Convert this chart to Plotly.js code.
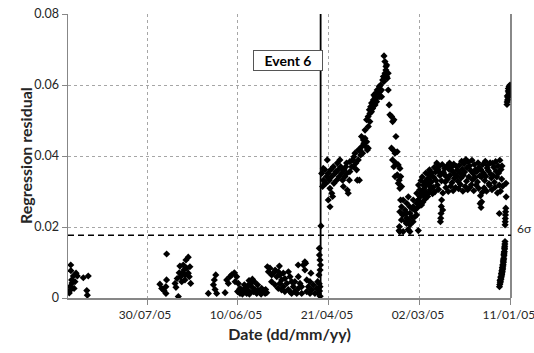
<!DOCTYPE html>
<html><head><meta charset="utf-8">
<script src="https://cdn.plot.ly/plotly-3.0.1.min.js"></script>
<style>html,body{margin:0;padding:0;background:#fff}#chart{width:534px;height:353px}</style>
</head><body><div id="chart"></div>
<script>
// ---- chart constants ----
const eventDate = '2005-04-25 14:00';
const eventLabel = 'Event 6';
const sixSigma = 0.0177;
const sixSigmaLabel = '6σ';
const xTitle = 'Date (dd/mm/yy)';
const yTitle = 'Regression residual';
const tickDates = ['2005-01-11','2005-03-02','2005-04-21','2005-06-10','2005-07-30'];
const tickLabels = ['11/01/05','02/03/05','21/04/05','10/06/05','30/07/05'];
const axisLaterEnd = '2005-09-11 10:00';
const axisEarlierEnd = '2005-01-10 23:00';

// ---- data: late summer ----
const sepDates = ['2005-08-31 07:00','2005-08-31 19:00','2005-09-01 02:00','2005-09-03 00:00','2005-09-06 07:00','2005-09-07 00:00','2005-09-07 14:00','2005-09-08 02:00','2005-09-08 12:00','2005-09-09 05:00','2005-09-09 10:00','2005-09-09 20:00','2005-09-09 22:00','2005-09-10 00:00','2005-09-10 07:00','2005-09-10 17:00'];
const sepValues = [0.0062,0.0008,0.0021,0.0057,0.0062,0.0070,0.0046,0.0027,0.0062,0.0042,0.0051,0.0077,0.0093,0.0023,0.0032,0.0014];

const julDates = ['2005-07-06 00:00','2005-07-06 10:00','2005-07-06 19:00','2005-07-07 07:00','2005-07-07 08:00','2005-07-08 05:00','2005-07-08 14:00','2005-07-09 02:00','2005-07-09 04:00','2005-07-09 17:00','2005-07-10 02:00','2005-07-10 10:00','2005-07-10 22:00','2005-07-11 12:00','2005-07-11 22:00','2005-07-12 07:00','2005-07-12 19:00','2005-07-13 10:00','2005-07-14 02:00','2005-07-14 14:00','2005-07-19 05:00','2005-07-19 06:00','2005-07-19 14:00','2005-07-19 15:00','2005-07-20 17:00','2005-07-21 22:00','2005-07-22 22:00'];
const julValues = [0.0041,0.0088,0.0060,0.0070,0.0115,0.0084,0.0107,0.0065,0.0051,0.0079,0.0093,0.0070,0.0046,0.0060,0.0090,0.0071,0.0004,0.0055,0.0030,0.0041,0.0124,0.0051,0.0013,0.0032,0.0021,0.0027,0.0039];

const junDates = ['2005-05-25 05:00','2005-05-25 19:00','2005-05-26 02:00','2005-05-26 12:00','2005-05-27 02:00','2005-05-28 00:00','2005-05-28 07:00','2005-05-28 22:00','2005-05-29 19:00','2005-05-30 05:00','2005-05-30 17:00','2005-05-31 07:00','2005-05-31 14:00','2005-06-01 00:00','2005-06-01 12:00','2005-06-02 02:00','2005-06-02 12:00','2005-06-02 22:00','2005-06-03 10:00','2005-06-03 17:00','2005-06-03 22:00','2005-06-04 07:00','2005-06-04 17:00','2005-06-05 05:00','2005-06-05 19:00','2005-06-06 02:00','2005-06-06 12:00','2005-06-07 00:00','2005-06-07 14:00','2005-06-08 00:00','2005-06-08 21:00','2005-06-08 22:00','2005-06-09 10:00','2005-06-09 19:00','2005-06-10 05:00','2005-06-10 17:00','2005-06-11 14:00','2005-06-12 00:00','2005-06-13 12:00','2005-06-14 10:00','2005-06-15 07:00','2005-06-16 05:00','2005-06-17 02:00','2005-06-21 17:00','2005-06-22 05:00','2005-06-22 14:00','2005-06-23 00:00','2005-06-23 12:00','2005-06-26 07:00'];
const junValues = [0.0015,0.0024,0.0013,0.0021,0.0018,0.0027,0.0011,0.0015,0.0021,0.0037,0.0013,0.0017,0.0024,0.0046,0.0018,0.0053,0.0032,0.0041,0.0015,0.0011,0.0049,0.0021,0.0034,0.0013,0.0017,0.0027,0.0037,0.0015,0.0011,0.0023,0.0013,0.0027,0.0021,0.0041,0.0018,0.0060,0.0046,0.0071,0.0065,0.0060,0.0041,0.0051,0.0015,0.0013,0.0065,0.0024,0.0051,0.0037,0.0013];

const mayDates = ['2005-04-25 22:00','2005-04-26 12:00','2005-04-26 19:00','2005-04-27 05:00','2005-04-27 19:00','2005-04-28 17:00','2005-04-29 14:00','2005-04-30 12:00','2005-04-30 22:00','2005-05-01 10:00','2005-05-01 11:00','2005-05-02 07:00','2005-05-03 05:00','2005-05-03 06:00','2005-05-03 19:00','2005-05-04 05:00','2005-05-04 06:00','2005-05-05 02:00','2005-05-06 00:00','2005-05-06 01:00','2005-05-06 22:00','2005-05-07 19:00','2005-05-07 20:00','2005-05-07 22:00','2005-05-08 17:00','2005-05-09 17:00','2005-05-09 18:00','2005-05-10 14:00','2005-05-11 12:00','2005-05-11 13:00','2005-05-12 10:00','2005-05-12 11:00','2005-05-13 07:00','2005-05-13 08:00','2005-05-14 05:00','2005-05-15 05:00','2005-05-15 06:00','2005-05-16 02:00','2005-05-16 03:00','2005-05-17 00:00','2005-05-17 01:00','2005-05-17 22:00','2005-05-17 23:00','2005-05-18 06:00','2005-05-18 19:00','2005-05-18 20:00','2005-05-19 17:00','2005-05-20 14:00','2005-05-20 15:00','2005-05-21 14:00','2005-05-22 12:00','2005-05-22 13:00','2005-05-23 10:00','2005-05-24 07:00','2005-05-24 20:00'];
const mayValues = [0.0032,0.0065,0.0013,0.0046,0.0027,0.0013,0.0037,0.0023,0.0070,0.0013,0.0046,0.0032,0.0051,0.0018,0.0098,0.0079,0.0102,0.0093,0.0013,0.0032,0.0041,0.0027,0.0060,0.0093,0.0013,0.0018,0.0046,0.0032,0.0046,0.0013,0.0060,0.0018,0.0074,0.0024,0.0041,0.0055,0.0018,0.0070,0.0032,0.0051,0.0023,0.0065,0.0041,0.0090,0.0074,0.0027,0.0060,0.0079,0.0037,0.0070,0.0065,0.0046,0.0084,0.0074,0.0088];

const eventDates = ['2005-04-25 10:00','2005-04-25 16:00','2005-04-25 20:00','2005-04-25 21:00','2005-04-25 23:00','2005-04-26 04:00','2005-04-26 06:00','2005-04-26 07:00','2005-04-26 08:00'];
const eventValues = [0.0203,0.0093,0.0005,0.0079,0.0107,0.0020,0.0121,0.0140,0.0040];

// ---- data: spring rise and peak ----
const springDates = ['2005-04-25 00:00','2005-04-24 02:00','2005-04-24 12:00','2005-04-23 05:00','2005-04-22 07:00','2005-04-22 17:00','2005-04-21 10:00','2005-04-21 22:00','2005-04-20 19:00','2005-04-20 11:00','2005-04-20 02:00','2005-04-19 12:00','2005-04-19 00:00','2005-04-18 14:00','2005-04-18 07:00','2005-04-17 17:00','2005-04-17 05:00','2005-04-16 19:00','2005-04-16 10:00','2005-04-15 22:00','2005-04-15 07:00','2005-04-15 00:00','2005-04-14 14:00','2005-04-14 02:00','2005-04-13 12:00','2005-04-13 02:00','2005-04-12 19:00','2005-04-12 05:00','2005-04-11 17:00','2005-04-11 07:00','2005-04-10 22:00','2005-04-10 10:00','2005-04-09 19:00','2005-04-09 12:00','2005-04-20 10:00','2005-04-21 09:00','2005-04-19 11:00','2005-04-08 12:00','2005-04-08 00:00','2005-04-07 07:00','2005-04-06 17:00','2005-04-06 05:00','2005-04-05 19:00','2005-04-05 10:00','2005-04-04 07:00','2005-04-04 22:00','2005-04-04 00:00','2005-04-03 14:00','2005-04-03 02:00','2005-04-02 12:00','2005-04-02 02:00','2005-04-01 19:00','2005-04-01 05:00','2005-03-31 17:00','2005-03-31 07:00','2005-03-30 22:00','2005-03-30 10:00','2005-04-01 04:00','2005-03-31 08:00','2005-03-30 11:00','2005-03-29 19:00','2005-03-29 12:00','2005-03-29 02:00','2005-03-28 14:00','2005-03-28 00:00','2005-03-27 14:00','2005-03-27 07:00','2005-03-26 17:00','2005-03-26 05:00','2005-03-25 19:00','2005-03-25 12:00','2005-03-24 22:00','2005-03-24 07:00','2005-03-24 00:00','2005-03-23 14:00','2005-03-23 02:00','2005-03-22 12:00','2005-03-22 02:00','2005-03-21 19:00','2005-03-21 05:00','2005-03-20 17:00','2005-03-20 07:00','2005-03-21 06:00','2005-03-21 18:00','2005-03-20 16:00','2005-03-19 22:00','2005-03-19 10:00','2005-03-18 22:00','2005-03-18 12:00','2005-03-17 14:00','2005-03-17 00:00','2005-03-16 07:00','2005-03-15 05:00','2005-03-17 15:00','2005-03-16 17:00','2005-03-15 17:00','2005-03-14 12:00','2005-03-17 01:00','2005-03-16 08:00','2005-03-15 06:00','2005-03-13 22:00','2005-03-13 00:00','2005-03-15 16:00','2005-03-14 11:00','2005-03-13 10:00','2005-03-12 14:00','2005-03-13 21:00','2005-03-13 01:00','2005-03-12 02:00','2005-03-12 15:00','2005-03-12 03:00','2005-03-13 02:00','2005-03-11 12:00','2005-03-10 05:00','2005-03-09 07:00','2005-03-08 10:00','2005-03-07 12:00','2005-03-09 17:00','2005-03-13 11:00','2005-03-11 05:00','2005-03-08 11:00','2005-03-07 13:00','2005-03-02 22:00','2005-03-07 11:00','2005-03-05 17:00','2005-03-04 19:00','2005-03-03 19:00','2005-03-02 21:00','2005-03-02 00:00','2005-03-01 02:00','2005-02-28 05:00','2005-02-27 07:00','2005-02-26 07:00','2005-02-25 10:00','2005-03-06 14:00','2005-03-04 20:00','2005-03-02 20:00','2005-03-01 03:00','2005-02-27 08:00','2005-02-25 11:00','2005-03-09 08:00','2005-03-05 18:00','2005-03-03 20:00','2005-03-30 09:00','2005-03-29 13:00','2005-03-28 15:00','2005-03-26 16:00','2005-03-25 20:00','2005-03-24 01:00','2005-03-23 03:00','2005-03-20 08:00','2005-03-19 11:00','2005-04-03 03:00','2005-04-04 21:00','2005-04-07 14:00','2005-04-09 13:00','2005-04-11 08:00','2005-04-13 03:00','2005-04-23 06:00','2005-04-24 03:00','2005-03-11 06:00','2005-03-09 06:00','2005-03-07 14:00','2005-03-10 07:00','2005-03-08 09:00','2005-03-05 16:00','2005-03-03 18:00','2005-03-04 17:00','2005-03-02 23:00','2005-03-06 04:00','2005-03-12 04:00','2005-03-09 10:00','2005-03-13 07:00','2005-03-13 03:00'];
const springValues = [0.0351,0.0332,0.0314,0.0361,0.0342,0.0323,0.0351,0.0389,0.0332,0.0309,0.0361,0.0342,0.0286,0.0370,0.0323,0.0351,0.0356,0.0332,0.0380,0.0361,0.0342,0.0389,0.0370,0.0351,0.0332,0.0314,0.0361,0.0342,0.0370,0.0351,0.0304,0.0295,0.0332,0.0356,0.0257,0.0276,0.0295,0.0370,0.0389,0.0398,0.0408,0.0380,0.0361,0.0332,0.0332,0.0389,0.0417,0.0403,0.0426,0.0408,0.0445,0.0436,0.0450,0.0426,0.0440,0.0417,0.0422,0.0473,0.0502,0.0511,0.0530,0.0520,0.0539,0.0549,0.0534,0.0558,0.0572,0.0567,0.0577,0.0563,0.0586,0.0577,0.0596,0.0581,0.0600,0.0567,0.0614,0.0624,0.0610,0.0633,0.0642,0.0656,0.0666,0.0682,0.0652,0.0619,0.0586,0.0544,0.0516,0.0511,0.0497,0.0502,0.0455,0.0422,0.0417,0.0408,0.0412,0.0389,0.0370,0.0380,0.0375,0.0365,0.0342,0.0347,0.0332,0.0342,0.0323,0.0309,0.0314,0.0276,0.0257,0.0243,0.0234,0.0248,0.0239,0.0220,0.0206,0.0215,0.0190,0.0187,0.0193,0.0187,0.0190,0.0239,0.0257,0.0248,0.0267,0.0276,0.0286,0.0295,0.0300,0.0314,0.0323,0.0332,0.0229,0.0229,0.0257,0.0262,0.0286,0.0295,0.0225,0.0215,0.0234,0.0483,0.0497,0.0525,0.0544,0.0553,0.0567,0.0586,0.0624,0.0633,0.0455,0.0417,0.0370,0.0384,0.0380,0.0361,0.0323,0.0365,0.0276,0.0267,0.0257,0.0238,0.0285,0.0276,0.0295,0.0248,0.0276,0.0252,0.0220,0.0210,0.0201,0.0187];

// ---- data: winter plateau ----
const plateauDates = [
'2005-01-16 02:00','2005-01-16 10:00','2005-01-16 18:00','2005-01-17 02:00','2005-01-17 10:00','2005-01-17 18:00',
'2005-01-18 02:00','2005-01-18 10:00','2005-01-18 18:00','2005-01-19 02:00','2005-01-19 10:00','2005-01-19 18:00',
'2005-01-20 02:00','2005-01-20 10:00','2005-01-20 18:00','2005-01-21 02:00','2005-01-21 10:00','2005-01-21 18:00',
'2005-01-22 02:00','2005-01-22 10:00','2005-01-22 18:00','2005-01-23 02:00','2005-01-23 10:00','2005-01-23 18:00',
'2005-01-24 02:00','2005-01-24 10:00','2005-01-24 18:00','2005-01-25 02:00','2005-01-25 10:00','2005-01-25 18:00',
'2005-01-26 02:00','2005-01-26 10:00','2005-01-26 18:00','2005-01-27 02:00','2005-01-27 10:00','2005-01-27 18:00',
'2005-01-28 02:00','2005-01-28 10:00','2005-01-28 18:00','2005-01-29 02:00','2005-01-29 10:00','2005-01-29 18:00',
'2005-01-30 02:00','2005-01-30 10:00','2005-01-30 18:00','2005-01-31 02:00','2005-01-31 10:00','2005-01-31 18:00',
'2005-02-01 02:00','2005-02-01 10:00','2005-02-01 18:00','2005-02-02 02:00','2005-02-02 10:00','2005-02-02 18:00',
'2005-02-03 02:00','2005-02-03 10:00','2005-02-03 18:00','2005-02-04 02:00','2005-02-04 10:00','2005-02-04 18:00',
'2005-02-05 02:00','2005-02-05 10:00','2005-02-05 18:00','2005-02-06 02:00','2005-02-06 10:00','2005-02-06 18:00',
'2005-02-07 02:00','2005-02-07 10:00','2005-02-07 18:00','2005-02-08 02:00','2005-02-08 10:00','2005-02-08 18:00',
'2005-02-09 02:00','2005-02-09 10:00','2005-02-09 18:00','2005-02-10 02:00','2005-02-10 10:00','2005-02-10 18:00',
'2005-02-11 02:00','2005-02-11 10:00','2005-02-11 18:00','2005-02-12 02:00','2005-02-12 10:00','2005-02-12 18:00',
'2005-02-13 02:00','2005-02-13 10:00','2005-02-13 18:00','2005-02-14 02:00','2005-02-14 10:00','2005-02-14 18:00',
'2005-02-15 02:00','2005-02-15 10:00','2005-02-15 18:00','2005-02-16 02:00','2005-02-16 10:00','2005-02-16 18:00',
'2005-02-17 02:00','2005-02-17 10:00','2005-02-17 18:00','2005-02-18 02:00','2005-02-18 10:00','2005-02-18 18:00',
'2005-02-19 02:00','2005-02-19 10:00','2005-02-19 18:00','2005-02-20 02:00','2005-02-20 10:00','2005-02-20 18:00',
'2005-02-21 02:00','2005-02-21 10:00','2005-02-21 18:00','2005-02-22 02:00','2005-02-22 10:00','2005-02-22 18:00',
'2005-02-23 02:00','2005-02-23 10:00','2005-02-23 18:00','2005-02-24 02:00','2005-02-24 10:00','2005-02-24 18:00',
'2005-02-25 02:00','2005-02-25 10:00','2005-02-25 18:00','2005-02-26 02:00','2005-02-26 10:00','2005-02-26 18:00',
'2005-02-27 02:00','2005-02-27 10:00','2005-02-27 18:00','2005-02-28 02:00','2005-02-28 10:00','2005-02-28 18:00',
'2005-03-01 02:00','2005-03-01 10:00','2005-03-01 18:00','2005-03-02 02:00','2005-03-02 10:00','2005-03-02 18:00',
'2005-02-18 06:00','2005-02-18 14:00','2005-02-17 12:00','2005-02-18 22:00','2005-02-18 04:00',
'2005-01-27 06:00','2005-01-27 14:00','2005-01-27 22:00','2005-01-17 09:00','2005-01-15 22:00','2005-01-15 14:00'];
const plateauValues = [
0.0335,0.0362,0.0301, 0.0388,0.0318,0.0352,
0.0372,0.0296,0.0341, 0.0357,0.0384,0.0312,
0.0326,0.0368,0.0345, 0.0379,0.0305,0.0338,
0.0349,0.0381,0.0317, 0.0322,0.0359,0.0374,
0.0366,0.0301,0.0343, 0.0385,0.0331,0.0310,
0.0352,0.0376,0.0298, 0.0271,0.0255,0.0288,
0.0344,0.0368,0.0309, 0.0381,0.0327,0.0356,
0.0318,0.0362,0.0340, 0.0376,0.0302,0.0351,
0.0333,0.0388,0.0319, 0.0359,0.0312,0.0372,
0.0341,0.0383,0.0305, 0.0367,0.0329,0.0390,
0.0314,0.0355,0.0378, 0.0346,0.0301,0.0363,
0.0385,0.0338,0.0320, 0.0352,0.0374,0.0308,
0.0329,0.0360,0.0343, 0.0371,0.0311,0.0349,
0.0337,0.0377,0.0302, 0.0358,0.0325,0.0369,
0.0315,0.0346,0.0380, 0.0363,0.0300,0.0335,
0.0372,0.0342,0.0311, 0.0327,0.0365,0.0348,
0.0354,0.0296,0.0376, 0.0276,0.0238,0.0215,
0.0345,0.0371,0.0306, 0.0362,0.0318,0.0380,
0.0331,0.0355,0.0299, 0.0368,0.0340,0.0312,
0.0294,0.0352,0.0327, 0.0343,0.0305,0.0361,
0.0317,0.0349,0.0286, 0.0335,0.0297,0.0352,
0.0279,0.0326,0.0308, 0.0318,0.0270,0.0341,
0.0289,0.0331,0.0262, 0.0305,0.0272,0.0318,
0.0258,0.0225,0.0248,0.0352,0.0330,
0.0341,0.0362,0.0266,0.0238,0.0372,0.0315];

// ---- data: mid January ----
const janDates = ['2005-01-13 15:00','2005-01-13 17:00','2005-01-13 20:00','2005-01-13 22:00','2005-01-14 00:00','2005-01-14 02:00','2005-01-14 03:00','2005-01-14 05:00',
'2005-01-14 06:00','2005-01-14 08:00','2005-01-14 10:00','2005-01-14 11:00','2005-01-14 13:00','2005-01-14 15:00','2005-01-14 17:00','2005-01-14 19:00','2005-01-14 21:00','2005-01-14 23:00',
'2005-01-15 01:00','2005-01-15 03:00','2005-01-15 05:00','2005-01-15 07:00','2005-01-15 09:00','2005-01-15 11:00','2005-01-15 13:00','2005-01-15 15:00','2005-01-15 17:00','2005-01-15 19:00','2005-01-15 21:00','2005-01-15 23:00',
'2005-01-16 01:00','2005-01-16 03:00','2005-01-16 06:00','2005-01-16 09:00','2005-01-16 12:00','2005-01-16 15:00','2005-01-16 18:00','2005-01-16 21:00','2005-01-17 00:00','2005-01-17 03:00','2005-01-17 07:00',
'2005-01-11 12:00','2005-01-11 16:00','2005-01-11 20:00','2005-01-11 22:00','2005-01-12 00:00','2005-01-12 04:00','2005-01-12 08:00','2005-01-12 10:00','2005-01-12 12:00','2005-01-12 16:00','2005-01-12 20:00','2005-01-13 00:00','2005-01-13 02:00','2005-01-13 04:00'];
const janValues = [0.0285,0.0323,0.0253,0.0243,0.0234,0.0224,0.0215,0.0206,
0.0159,0.0152,0.0146,0.0138,0.0141,0.0131,0.0127,0.0119,0.0123,0.0112,
0.0108,0.0101,0.0104,0.0095,0.0090,0.0093,0.0084,0.0080,0.0086,0.0075,0.0071,0.0077,
0.0066,0.0062,0.0069,0.0057,0.0053,0.0059,0.0047,0.0043,0.0050,0.0038,0.0032,
0.0600,0.0592,0.0585,0.0575,0.0596,0.0578,0.0571,0.0590,0.0583,0.0565,0.0558,0.0569,0.0552,0.0545];

const FONT = 'Lato, Carlito, Calibri, "Open Sans", sans-serif';
const allDates = [].concat(sepDates, julDates, junDates, mayDates, eventDates, springDates, plateauDates, janDates);
const allValues = [].concat(sepValues, julValues, junValues, mayValues, eventValues, springValues, plateauValues, janValues);

const traces = [{
  type: 'scatter', mode: 'markers', x: allDates, y: allValues,
  marker: {symbol: 'diamond', size: 5.5, color: '#000'},
  hoverinfo: 'skip', cliponaxis: true
}];

const layout = {
  width: 534, height: 353,
  margin: {l: 68, r: 23, t: 14, b: 55, pad: 0},
  paper_bgcolor: '#fff', plot_bgcolor: '#fff',
  font: {family: FONT, size: 12, color: '#262626'},
  showlegend: false,
  xaxis: {
    type: 'date', range: [axisLaterEnd, axisEarlierEnd],
    tickmode: 'array', tickvals: tickDates, ticktext: tickLabels,
    ticklabeloverflow: 'allow', ticklabelshift: 2,
    showgrid: true, gridcolor: '#a6a6a6', griddash: 'dot', gridwidth: 1,
    showline: true, linecolor: '#878787', linewidth: 1.5,
    ticks: 'outside', ticklen: 5, tickcolor: '#878787', tickwidth: 1,
    zeroline: false, automargin: false,
    tickfont: {family: FONT, size: 12, color: '#262626'},
    title: {text: '<b>' + xTitle + '</b>', font: {family: FONT, size: 16, color: '#262626'}, standoff: 8}
  },
  yaxis: {
    range: [0, 0.08], tick0: 0, dtick: 0.02,
    showgrid: true, gridcolor: '#a6a6a6', griddash: 'dot', gridwidth: 1,
    showline: true, linecolor: '#878787', linewidth: 1.5,
    ticks: 'outside', ticklen: 5, tickcolor: '#878787', tickwidth: 1,
    zeroline: false, automargin: false,
    tickfont: {family: FONT, size: 12.5, color: '#262626'},
    title: {text: ''}
  },
  shapes: [
    {type: 'line', xref: 'paper', yref: 'paper', x0: 1, x1: 1, y0: 0, y1: 1, line: {color: '#3a3a3a', width: 1.2}},
    {type: 'line', xref: 'x', yref: 'paper', x0: eventDate, x1: eventDate, y0: 0, y1: 1, line: {color: '#000', width: 1.8}},
    {type: 'line', xref: 'paper', yref: 'y', x0: 0, x1: 1, y0: sixSigma, y1: sixSigma, line: {color: '#000', width: 1.5, dash: '6px,4px'}}
  ],
  annotations: [
    {xref: 'paper', yref: 'paper', x: 0, y: 0.5, xanchor: 'center', yanchor: 'middle', xshift: -43,
     textangle: -90, text: '<b>' + yTitle + '</b>', showarrow: false, font: {family: FONT, size: 16, color: '#262626'}},
    {xref: 'x', yref: 'paper', x: eventDate, y: 0.838, xanchor: 'right', yanchor: 'middle', xshift: 2,
     text: '<b>' + eventLabel + '</b>', showarrow: false, font: {family: FONT, size: 14, color: '#000'},
     bgcolor: '#fff', bordercolor: '#555', borderwidth: 1, borderpad: 2, width: 64, height: 15},
    {xref: 'paper', yref: 'y', x: 1, y: sixSigma, xanchor: 'left', yanchor: 'middle', xshift: 4, yshift: 7,
     text: sixSigmaLabel, showarrow: false, font: {family: FONT, size: 12, color: '#262626'}}
  ]
};

Plotly.newPlot('chart', traces, layout, {displayModeBar: false, staticPlot: true});
</script>
</body></html>
